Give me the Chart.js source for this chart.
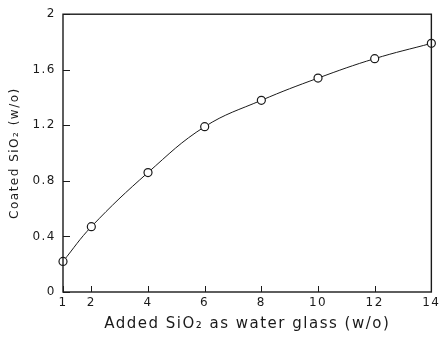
<!DOCTYPE html>
<html>
<head>
<meta charset="utf-8">
<script src="https://cdn.jsdelivr.net/npm/chart.js@4"></script>
<style>
  html, body { margin: 0; padding: 0; background: #fff; }
  #wrap { width: 443px; height: 339px; }
</style>
</head>
<body>
<div id="wrap"><canvas id="myChart"></canvas></div>
<script>
// values
var addedSiO2 = [1, 2, 4, 6, 8, 10, 12, 14];
var coatedSiO2 = [0.22, 0.47, 0.86, 1.19, 1.38, 1.54, 1.68, 1.79];
var xTickValues = [1, 2, 4, 6, 8, 10, 12, 14];
var yTickValues = [0, 0.4, 0.8, 1.2, 1.6, 2];
var yTickLabels = ['0', '0.4', '0.8', '1.2', '1.6', '2'];

var ink = '#1a1a1a';
var ctx1 = document.getElementById('myChart');

// wide typewriter-like lettering, as in the scan
const spacing = {
  id: 'spacing',
  beforeDraw(chart) {
    chart.ctx.letterSpacing = '1.5px';
  }
};

// box round the plot and short ticks pointing inwards
const frameTicks = {
  id: 'frameTicks',
  afterDraw(chart) {
    const c = chart.ctx;
    const a = chart.chartArea;
    const xs = chart.scales.x, ys = chart.scales.y;
    c.save();
    c.strokeStyle = ink;
    c.lineWidth = 1.4;
    c.strokeRect(a.left, a.top, a.right - a.left, a.bottom - a.top);
    c.lineWidth = 1;
    c.beginPath();
    xTickValues.forEach(function (v) {
      const px = Math.round(xs.getPixelForValue(v)) + 0.5;
      c.moveTo(px, a.bottom);
      c.lineTo(px, a.bottom - 6);
    });
    yTickValues.forEach(function (v) {
      const py = Math.round(ys.getPixelForValue(v)) + 0.5;
      c.moveTo(a.left, py);
      c.lineTo(a.left + 7, py);
    });
    c.stroke();
    c.restore();
  }
};

const config = {
  type: 'line',
  data: {
    datasets: [{
      data: addedSiO2.map(function (x, i) { return { x: x, y: coatedSiO2[i] }; }),
      borderColor: ink,
      borderWidth: 1,
      tension: 0.4,
      pointRadius: 4,
      pointBorderWidth: 1.2,
      pointBorderColor: ink,
      pointBackgroundColor: '#fff',
      clip: false
    }]
  },
  options: {
    responsive: true,
    maintainAspectRatio: false,
    animation: false,
    events: [],
    layout: { padding: { top: 10, right: 10, left: 0, bottom: 0 } },
    plugins: { legend: { display: false }, tooltip: { enabled: false } },
    scales: {
      x: {
        type: 'linear',
        min: 1,
        max: 14,
        grid: { display: false, drawTicks: false },
        border: { display: false },
        afterBuildTicks: function (scale) {
          scale.ticks = xTickValues.map(function (v) { return { value: v }; });
        },
        ticks: {
          color: ink,
          padding: 4,
          font: { family: 'DejaVu Sans', size: 12 },
          callback: function (v) { return String(v); }
        },
        title: {
          display: true,
          text: 'Added SiO₂ as water glass (w/o)',
          color: ink,
          padding: { top: 3, bottom: 6 },
          font: { family: 'DejaVu Sans', size: 15 }
        },
        afterFit: function (scale) { scale.height = 47; }
      },
      y: {
        min: 0,
        max: 2,
        grid: { display: false, drawTicks: false },
        border: { display: false },
        afterBuildTicks: function (scale) {
          scale.ticks = yTickValues.map(function (v) { return { value: v }; });
        },
        ticks: {
          color: ink,
          padding: 7,
          font: { family: 'DejaVu Sans', size: 12 },
          callback: function (v) {
            var i = yTickValues.indexOf(v);
            return i >= 0 ? yTickLabels[i] : '';
          }
        },
        title: {
          display: true,
          text: 'Coated SiO₂ (w/o)',
          color: ink,
          padding: { top: 8, bottom: 4 },
          font: { family: 'DejaVu Sans', size: 12 }
        },
        afterFit: function (scale) { scale.width = 63; }
      }
    }
  },
  plugins: [spacing, frameTicks]
};

const myChart = new Chart(ctx1, config);
</script>
</body>
</html>
